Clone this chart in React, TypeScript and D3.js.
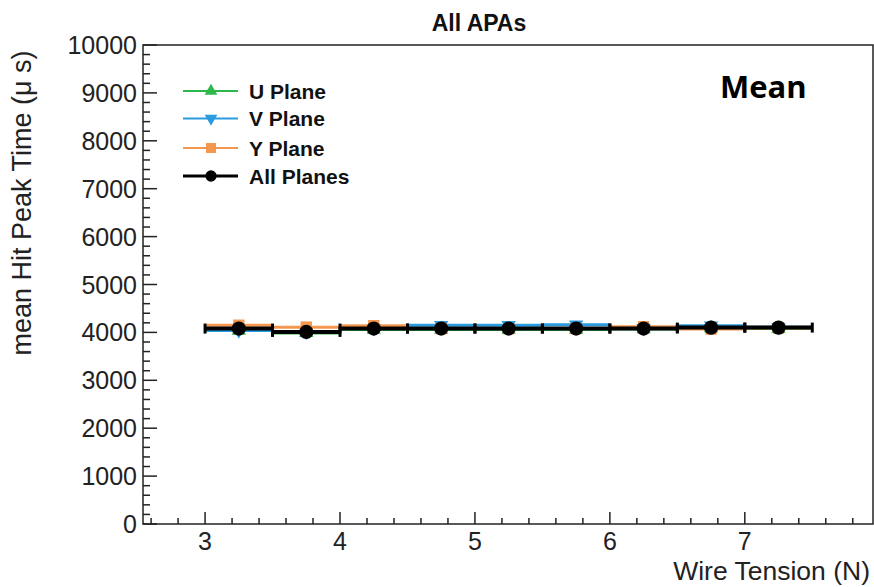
import React from 'react';
import * as d3 from 'd3';

// bin centres of wire tension (N), each bin is 0.5 N wide
const tensionBins = [3.25, 3.75, 4.25, 4.75, 5.25, 5.75, 6.25, 6.75, 7.25];
const binHalfWidth = 0.25;

// mean hit peak time (us) per plane
const uPlane = [4040, 3990, 4060, 4060, 4060, 4060, 4070, 4090, 4080];
const vPlane = [4040, 4010, 4090, 4150, 4150, 4160, 4090, 4140, 4110];
const yPlane = [4150, 4110, 4140, 4080, 4080, 4080, 4120, 4070, 4090];
const allPlanes = [4080, 4010, 4080, 4080, 4080, 4080, 4080, 4100, 4100];

const xTicks = [3, 4, 5, 6, 7];
const yTicks = [0, 1000, 2000, 3000, 4000, 5000, 6000, 7000, 8000, 9000, 10000];

const seriesNames = ['U Plane', 'V Plane', 'Y Plane', 'All Planes'];
const seriesColors = ['#2eb84a', '#2b9be0', '#f5974f', '#000000'];

const App = () => {
  const width = 874;
  const height = 587;
  const left = 143, right = 873, top = 45, bottom = 524;

  const x = d3.scaleLinear().domain([2.54, 7.95]).range([left, right]);
  const y = d3.scaleLinear().domain([0, 10000]).range([bottom, top]);

  const xMinor = d3.range(13, 40).filter(i => i % 5 !== 0).map(i => i * 0.2);
  const yMinor = d3.range(0, 50).filter(i => i % 5 !== 0).map(i => i * 200);

  const symbols = [
    { type: d3.symbolTriangle, size: 90, rot: 0 },
    { type: d3.symbolTriangle, size: 90, rot: 180 },
    { type: d3.symbolSquare, size: 130, rot: 0 },
    { type: d3.symbolCircle, size: 160, rot: 0 },
  ];
  const legendSymbols = [
    { type: d3.symbolTriangle, size: 70, rot: 0 },
    { type: d3.symbolTriangle, size: 70, rot: 180 },
    { type: d3.symbolSquare, size: 100, rot: 0 },
    { type: d3.symbolCircle, size: 100, rot: 0 },
  ];

  const allSeries = [uPlane, vPlane, yPlane, allPlanes];
  const font = 'Liberation Sans, Arial, Helvetica, sans-serif';

  return (
    <svg width={width} height={height} style={{ position: 'absolute', left: 0, top: 0, background: '#fff' }}>
      <rect x={0} y={0} width={width} height={height} fill="#fff" />

      {/* title */}
      <text x={479} y={31} textAnchor="middle" fontFamily={font} fontWeight="bold" fontSize={23} fill="#111">
        All APAs
      </text>

      {/* frame */}
      <rect x={left} y={top} width={right - left} height={bottom - top} fill="none" stroke="#222" strokeWidth={1.5} />

      {/* x ticks */}
      {xTicks.map(t => (
        <line key={'xm' + t} x1={x(t)} x2={x(t)} y1={bottom} y2={bottom - 12} stroke="#222" strokeWidth={1.5} />
      ))}
      {xMinor.map(t => (
        <line key={'xn' + t} x1={x(t)} x2={x(t)} y1={bottom} y2={bottom - 6} stroke="#222" strokeWidth={1.5} />
      ))}
      {xTicks.map(t => (
        <text key={'xl' + t} x={x(t)} y={550} textAnchor="middle" fontFamily={font} fontSize={25} fill="#222">
          {t}
        </text>
      ))}

      {/* y ticks */}
      {yTicks.map(t => (
        <line key={'ym' + t} x1={left} x2={left + 14} y1={y(t)} y2={y(t)} stroke="#222" strokeWidth={1.5} />
      ))}
      {yMinor.map(t => (
        <line key={'yn' + t} x1={left} x2={left + 7} y1={y(t)} y2={y(t)} stroke="#222" strokeWidth={1.5} />
      ))}
      {yTicks.map(t => (
        <text key={'yl' + t} x={137} y={y(t) + 9} textAnchor="end" fontFamily={font} fontSize={25} fill="#222">
          {t}
        </text>
      ))}

      {/* axis titles */}
      <text x={870} y={580} textAnchor="end" fontFamily={font} fontSize={26.5} fill="#222">
        Wire Tension (N)
      </text>
      <text
        transform={`translate(31, 203) rotate(-90)`}
        textAnchor="middle"
        fontFamily={font}
        fontSize={27}
        fill="#222"
      >
        mean Hit Peak Time (μ s)
      </text>

      {/* data */}
      {allSeries.map((vals, si) => {
        const sym = d3.symbol().type(symbols[si].type).size(symbols[si].size)();
        const isAll = si === 3;
        return (
          <g key={'s' + si}>
            {vals.map((v, i) => (
              <g key={i}>
                <line
                  x1={x(tensionBins[i] - binHalfWidth)}
                  x2={x(tensionBins[i] + binHalfWidth)}
                  y1={y(v)}
                  y2={y(v)}
                  stroke={seriesColors[si]}
                  strokeWidth={isAll ? 4 : 3}
                />
                {isAll && (
                  <>
                    <line x1={x(tensionBins[i] - binHalfWidth)} x2={x(tensionBins[i] - binHalfWidth)} y1={y(v) - 5} y2={y(v) + 5} stroke="#000" strokeWidth={3} />
                    <line x1={x(tensionBins[i] + binHalfWidth)} x2={x(tensionBins[i] + binHalfWidth)} y1={y(v) - 5} y2={y(v) + 5} stroke="#000" strokeWidth={3} />
                  </>
                )}
                <path
                  d={sym || ''}
                  transform={`translate(${x(tensionBins[i])}, ${y(v)}) rotate(${symbols[si].rot})`}
                  fill={seriesColors[si]}
                />
              </g>
            ))}
          </g>
        );
      })}

      {/* legend */}
      {seriesNames.map((name, i) => {
        const ly = [91, 118.5, 148, 176][i];
        const sym = d3.symbol().type(legendSymbols[i].type).size(legendSymbols[i].size)();
        return (
          <g key={'lg' + i}>
            <line x1={183} x2={238} y1={ly} y2={ly} stroke={seriesColors[i]} strokeWidth={i === 3 ? 3 : 2} />
            <path d={sym || ''} transform={`translate(211, ${ly}) rotate(${legendSymbols[i].rot})`} fill={seriesColors[i]} />
            <text x={249} y={ly + 7.5} fontFamily={font} fontWeight="bold" fontSize={21} fill="#111">
              {name}
            </text>
          </g>
        );
      })}

      <text x={720} y={98} fontFamily="Open Sans, Lato, sans-serif" fontWeight="bold" fontSize={31} fill="#000">
        Mean
      </text>
    </svg>
  );
};

export default App;
